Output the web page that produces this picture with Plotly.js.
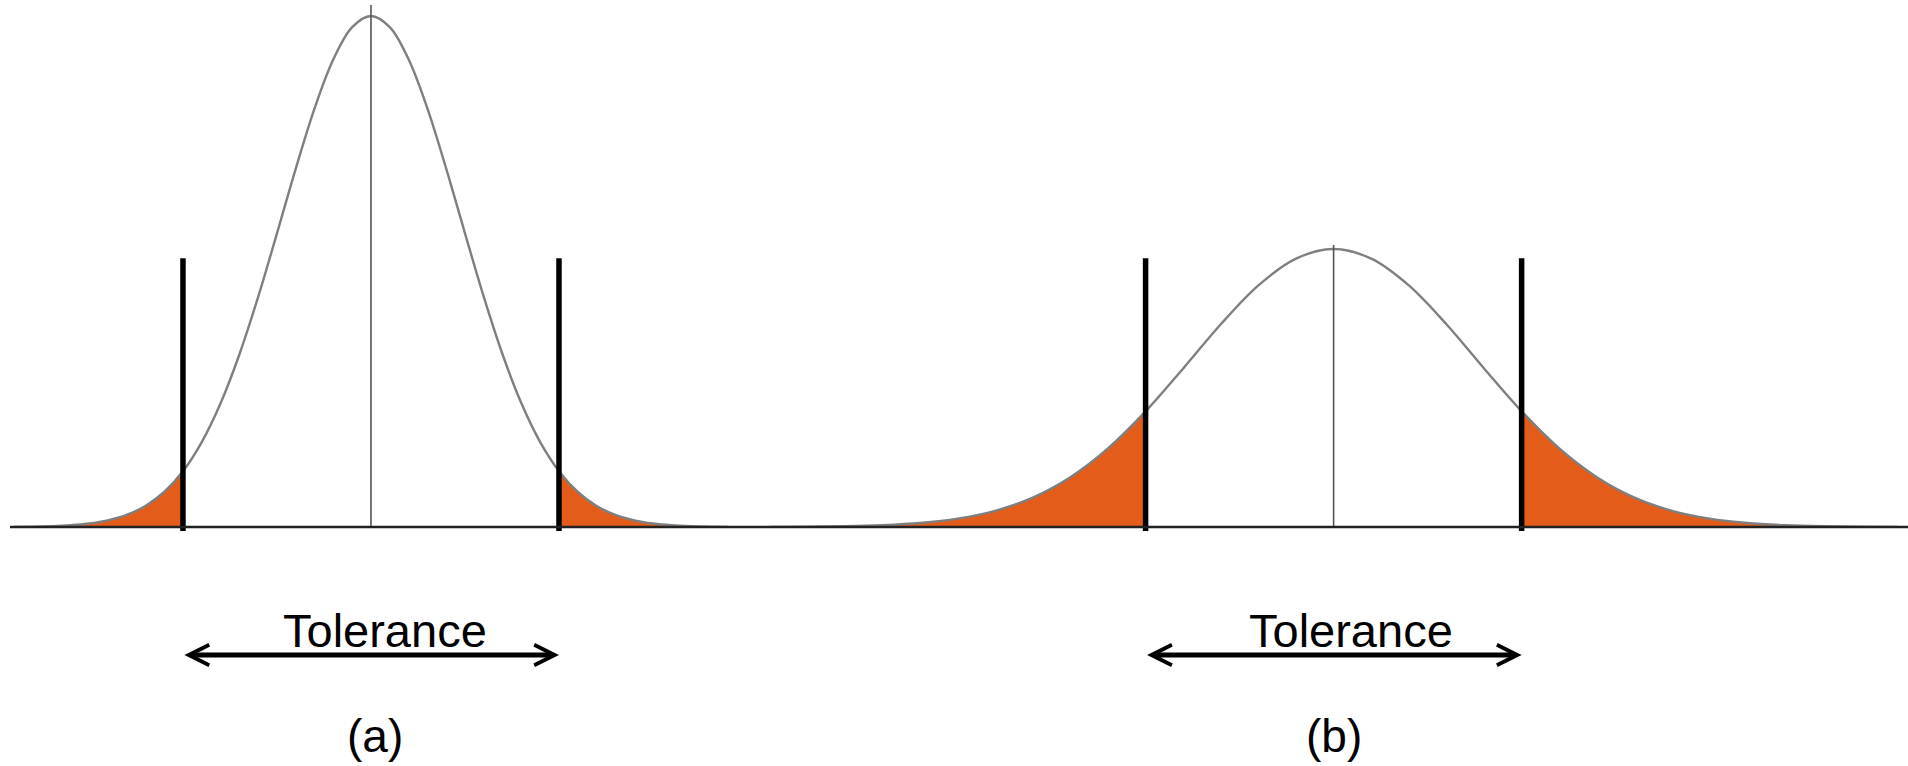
<!DOCTYPE html>
<html>
<head>
<meta charset="utf-8">
<script src="https://cdn.plot.ly/plotly-3.0.1.min.js"></script>
<style>
  html, body { margin: 0; padding: 0; background: #ffffff; }
  #chart { width: 1908px; height: 766px; }
</style>
</head>
<body>
<div id="chart"></div>
<script>
// ---- Data ----
// Panel (a): narrow distribution (x in tolerance half-width units, centre = 0)
const A_X = [-1.9,-1.8,-1.7,-1.6,-1.5,-1.4,-1.3,-1.2,-1.1,-1.0,-0.9,-0.8,-0.7,-0.6,-0.5,-0.4,-0.3,-0.2,-0.1,0,
             0.1,0.2,0.3,0.4,0.5,0.6,0.7,0.8,0.9,1.0,1.1,1.2,1.3,1.4,1.5,1.6,1.7,1.8,1.9];
const A_Y = [0.0003,0.0008,0.0017,0.0034,0.0068,0.0130,0.0236,0.0411,0.0685,0.1091,0.1661,0.2421,0.3376,0.4503,0.5747,0.7014,0.8192,0.9152,0.9781,1.0,
             0.9781,0.9152,0.8192,0.7014,0.5747,0.4503,0.3376,0.2421,0.1661,0.1091,0.0685,0.0411,0.0236,0.0130,0.0068,0.0034,0.0017,0.0008,0.0003];

// Panel (b): wide distribution
const B_X = [-3.0,-2.8,-2.6,-2.4,-2.2,-2.0,-1.8,-1.6,-1.4,-1.2,-1.0,-0.8,-0.6,-0.4,-0.2,0,
             0.2,0.4,0.6,0.8,1.0,1.2,1.4,1.6,1.8,2.0,2.2,2.4,2.6,2.8,3.0];
const B_Y = [0.0002,0.0006,0.0014,0.0035,0.0078,0.0163,0.0317,0.0576,0.0975,0.1538,0.2263,0.3103,0.3967,0.4728,0.5252,0.544,
             0.5252,0.4728,0.3967,0.3103,0.2263,0.1538,0.0975,0.0576,0.0317,0.0163,0.0078,0.0035,0.0014,0.0006,0.0002];

const LIMITS = [-1, 1];              // lower / upper tolerance limits
const LIMIT_Y = [-0.008, 0.526];     // extent of the limit bars
const CENTER_TOP = [1.0215, 0.552];  // top of the centre line, (a) and (b)
const PANEL_LABELS = ['(a)', '(b)'];
const TOL_LABEL = 'Tolerance';

// ---- Styling ----
const ORANGE = '#E45C1A';
const CURVE = '#7f7f7f';
const FONT = 'Liberation Sans, Arial, sans-serif';

function panelTraces(xs, ys, xa, centerTop) {
  const lowX = [], lowY = [], highX = [], highY = [];
  xs.forEach((x, i) => {
    if (x <= LIMITS[0]) { lowX.push(x); lowY.push(ys[i]); }
    if (x >= LIMITS[1]) { highX.push(x); highY.push(ys[i]); }
  });
  const common = { xaxis: xa, yaxis: 'y', hoverinfo: 'skip', showlegend: false };
  return [
    Object.assign({ type: 'scatter', mode: 'lines', x: lowX, y: lowY, fill: 'tozeroy',
      fillcolor: ORANGE, line: { width: 0, shape: 'spline', color: ORANGE } }, common),
    Object.assign({ type: 'scatter', mode: 'lines', x: highX, y: highY, fill: 'tozeroy',
      fillcolor: ORANGE, line: { width: 0, shape: 'spline', color: ORANGE } }, common),
    Object.assign({ type: 'scatter', mode: 'lines', x: xs, y: ys,
      line: { width: 2.4, shape: 'spline', color: CURVE } }, common),
    Object.assign({ type: 'scatter', mode: 'lines', x: [0, 0], y: [0, centerTop],
      line: { width: 1.6, color: '#555555' } }, common),
    Object.assign({ type: 'scatter', mode: 'lines', x: [LIMITS[0], LIMITS[0]], y: LIMIT_Y,
      line: { width: 5.5, color: '#000000' } }, common),
    Object.assign({ type: 'scatter', mode: 'lines', x: [LIMITS[1], LIMITS[1]], y: LIMIT_Y,
      line: { width: 5.5, color: '#000000' } }, common)
  ];
}

const traces = [].concat(
  panelTraces(A_X, A_Y, 'x', CENTER_TOP[0]),
  panelTraces(B_X, B_Y, 'x2', CENTER_TOP[1])
);

const ARROW_Y = -0.2505;
const TEXT_Y = -0.2016;
const LABEL_Y = -0.409;

function arrow(xr) {
  return {
    xref: xr, yref: 'y', axref: xr, ayref: 'y',
    x: LIMITS[1], y: ARROW_Y, ax: LIMITS[0], ay: ARROW_Y,
    text: '', showarrow: true, arrowside: 'end+start',
    arrowhead: 5, startarrowhead: 5, arrowsize: 0.8, startarrowsize: 0.8,
    arrowwidth: 5, arrowcolor: '#000000', standoff: 0, startstandoff: 0
  };
}
function label(xr, x, y, txt, size) {
  return {
    xref: xr, yref: 'y', x: x, y: y, text: txt, showarrow: false,
    xanchor: 'center', yanchor: 'middle',
    font: { family: FONT, size: size, color: '#000000' }
  };
}

const layout = {
  width: 1908, height: 766,
  margin: { l: 10, r: 0, t: 0, b: 0, pad: 0 },
  paper_bgcolor: '#ffffff', plot_bgcolor: '#ffffff',
  showlegend: false,
  xaxis: { domain: [0, 0.3888], range: [-1.92, 2.005], visible: false, fixedrange: true },
  xaxis2: { domain: [0.3888, 1], range: [-3.115, 3.055], anchor: 'y', visible: false, fixedrange: true },
  yaxis: { range: [-0.4677, 1.0313], visible: false, fixedrange: true },
  shapes: [
    { type: 'line', layer: 'above', xref: 'paper', yref: 'y', x0: 0, x1: 1, y0: 0, y1: 0,
      line: { color: '#222222', width: 2.5 } }
  ],
  annotations: [
    arrow('x'), arrow('x2'),
    label('x', 0.072, TEXT_Y, TOL_LABEL, 47),
    label('x2', 0.091, TEXT_Y, TOL_LABEL, 47),
    label('x', 0.023, LABEL_Y, PANEL_LABELS[0], 46),
    label('x2', 0.0, LABEL_Y, PANEL_LABELS[1], 46)
  ]
};

Plotly.newPlot('chart', traces, layout, { displayModeBar: false, staticPlot: true });
</script>
</body>
</html>
